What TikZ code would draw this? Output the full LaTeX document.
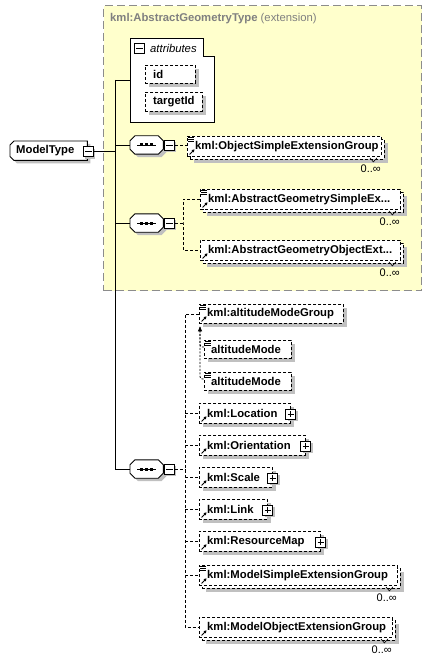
\documentclass[tikz,border=0pt]{standalone}
\usepackage{fontspec}
\setmainfont{Liberation Sans}
\usetikzlibrary{shadows,arrows.meta,calc}
\definecolor{ybg}{RGB}{255,255,204}
\definecolor{ybd}{RGB}{140,140,140}
\definecolor{shd}{RGB}{192,192,192}
\definecolor{ttl}{RGB}{128,128,128}
\tikzset{
  dsh/.style={dash pattern=on 3pt off 2pt},
  dotl/.style={dash pattern=on 2pt off 1.5pt},
  shadowed/.style={general shadow={fill=shd, shadow xshift=4pt, shadow yshift=-4pt}},
  elembox/.style={draw=black, line width=0.9pt, dsh, fill=white, inner sep=0pt, anchor=north west},
  lbl/.style={font=\fontsize{11.3}{13}\selectfont\bfseries, inner sep=0pt, anchor=west, text=black},
  occ/.style={font=\fontsize{11}{13}\selectfont, inner sep=0pt, anchor=east},
  iconbox/.style={draw=black, solid, fill=white, line width=0.9pt, minimum size=10pt, inner sep=0pt,
    general shadow={fill=shd, shadow xshift=2pt, shadow yshift=-2pt}},
  wire/.style={line width=0.9pt},
}
\newcommand\minusicon[2]{%
  \node[iconbox] (#1) at (#2) {};
  \draw[line width=0.9pt] ($(#1.center)+(-3.2,0)$) -- ($(#1.center)+(3.2,0)$);}
\newcommand\plusicon[2]{%
  \node[iconbox] (#1) at (#2) {};
  \draw[line width=0.9pt] ($(#1.center)+(-3.2,0)$) -- ($(#1.center)+(3.2,0)$);
  \draw[line width=0.9pt] ($(#1.center)+(0,-3.2)$) -- ($(#1.center)+(0,3.2)$);}
\newcommand\seqnode[3]{%
  \node[inner sep=0pt, minimum width=33pt, minimum height=18pt, anchor=west] (#1) at (#2,#3) {};
  \filldraw[fill=white, line width=0.9pt, general shadow={fill=shd, shadow xshift=3pt, shadow yshift=-3pt}]
    ($(#1.north west)+(5,0)$) -- ($(#1.north east)+(-5,0)$) -- ($(#1.north east)+(0,5)$) --
    ($(#1.south east)+(0,-5)$) -- ($(#1.south east)+(-5,0)$) -- ($(#1.south west)+(5,0)$) --
    ($(#1.south west)+(0,-5)$) -- ($(#1.north west)+(0,5)$) -- cycle;
  \draw[line width=0.9pt] ($(#1.west)+(7,0)$) -- ($(#1.east)+(-7,0)$);
  \foreach \dx in {-5,0,5} {\fill ($(#1.center)+(\dx-1.5,-1.5)$) rectangle +(3,3);}
  \minusicon{#1m}{$(#1.east)+(6,0)$}}
\newcommand\refarrow[1]{%
  \draw[line width=0.9pt, solid, -{Triangle[length=2.6pt,width=3pt]}] ($(#1.south west)+(2.5,-2.5)$) -- ($(#1.south west)+(7.5,-7.5)$);}
\newcommand\simplelines[1]{%
  \foreach \dy in {1.2,3.2,5.2} {\draw[line width=0.7pt, solid] ($(#1.north west)+(1,\dy)$) -- +(6,0);}}
\newcommand\notch[1]{%
  \draw[line width=0.6pt, solid] ($(#1.south east)+(-12,1)$) -- ($(#1.south east)+(-8.5,5)$) -- ($(#1.south east)+(-5,1)$);}
\begin{document}
\begin{tikzpicture}[x=1pt,y=-1pt]
\useasboundingbox[fill=white] (0,0) rectangle (432,660);

% extension area
\node[draw=ybd, fill=ybg, line width=1.1pt, dash pattern=on 8pt off 4pt, inner sep=0pt,
      minimum width=318pt, minimum height=285pt, anchor=north west] (ext) at (103,5) {};
\node[inner sep=0pt, anchor=west, text=ttl, font=\fontsize{11.3}{13}\selectfont] (extt) at (110,19)
  {\textbf{kml:AbstractGeometryType} (extension)};

% attributes panel
\node[inner sep=0pt, minimum width=84pt, minimum height=84pt, anchor=north west] (attr) at (130,38) {};
\filldraw[fill=white, line width=0.9pt] (attr.north west) -- ($(attr.north east)+(-11,0)$) --
  ($(attr.north east)+(-11,18)$) -- ($(attr.north east)+(0,18)$) -- (attr.south east) -- (attr.south west) -- cycle;
\node[draw=black, fill=white, line width=0.9pt, minimum size=10pt, inner sep=0pt] (attrm) at (139.5,48.5) {};
\draw[line width=0.9pt] ($(attrm.center)+(-3.2,0)$) -- ($(attrm.center)+(3.2,0)$);
\node[inner sep=0pt, anchor=west, font=\fontsize{11.3}{13}\selectfont\itshape] (attrt) at (150,48.5) {attributes};
\node[elembox, shadowed, minimum width=50pt, minimum height=18pt] (aid) at (145,65) {};
\node[lbl] (aidt) at ($(aid.west)+(8,0)$) {id};
\node[elembox, shadowed, minimum width=57pt, minimum height=19pt] (atid) at (145,92) {};
\node[lbl] (atidt) at ($(atid.west)+(8,0)$) {targetId};

% root
\node[inner sep=0pt, minimum width=77pt, minimum height=19pt, anchor=north west] (mt) at (10,141) {};
\filldraw[fill=white, line width=0.9pt, general shadow={fill=shd, shadow xshift=3pt, shadow yshift=-3pt}]
  ($(mt.north west)+(4,0)$) -- (mt.north east) -- (mt.south east) -- ($(mt.south west)+(4,0)$) --
  ($(mt.south west)+(0,-4)$) -- ($(mt.north west)+(0,4)$) -- cycle;
\node[lbl] (mtt) at ($(mt.west)+(6,0)$) {ModelType};
\minusicon{mtm}{$(mt.east)+(1,1)$}

% bus
\coordinate (bustop) at (115,80);
\coordinate (busbot) at (115,469);
\draw[wire] (mtm.east) -- (mtm.east -| bustop);
\draw[wire] (bustop) -- (busbot);
\draw[wire] (bustop) -- (bustop -| attr.west);

% sequences
\seqnode{s1}{130}{145}
\seqnode{s2}{130}{223}
\seqnode{s3}{130}{469}
\draw[wire] (s1.west -| bustop) -- (s1.west);
\draw[wire] (s2.west -| bustop) -- (s2.west);
\draw[wire] (busbot) -- (s3.west);

% sequence 1 content
\node[elembox, shadowed, minimum width=194pt, minimum height=20pt] (osgb) at (190,139) {};
\node[elembox, minimum width=194pt, minimum height=20pt] (osg) at (187,136) {};
\simplelines{osg}\refarrow{osg}\notch{osg}
\node[lbl] (osgt) at ($(osg.west)+(8,0)$) {kml:ObjectSimpleExtensionGroup};
\node[occ] (osgo) at ($(osg.south east)+(-1,12)$) {0..∞};
\draw[wire, dsh] (s1m.east) -- (s1m.east -| osg.west);

% sequence 2 content
\node[elembox, shadowed, minimum width=200pt, minimum height=20pt] (agsb) at (203,192) {};
\node[elembox, minimum width=200pt, minimum height=20pt] (ags) at (200,189) {};
\simplelines{ags}\refarrow{ags}\notch{ags}
\node[lbl] (agst) at ($(ags.west)+(8,0)$) {kml:AbstractGeometrySimpleEx...};
\node[occ] (agso) at ($(ags.south east)+(-1,12)$) {0..∞};
\node[elembox, shadowed, minimum width=200pt, minimum height=20pt] (agob) at (203,243) {};
\node[elembox, minimum width=200pt, minimum height=20pt] (ago) at (200,240) {};
\refarrow{ago}\notch{ago}
\node[lbl] (agot) at ($(ago.west)+(8,0)$) {kml:AbstractGeometryObjectExt...};
\node[occ] (agoo) at ($(ago.south east)+(-1,12)$) {0..∞};
\coordinate (b2) at (183,223);
\draw[wire, dsh] (s2m.east) -- (b2);
\draw[wire, dsh] (ags.west) -| (b2) |- (ago.west);

% sequence 3 content
\node[elembox, shadowed, minimum width=144pt, minimum height=19pt] (amg) at (199,304) {};
\simplelines{amg}\refarrow{amg}
\node[lbl] (amgt) at ($(amg.west)+(8,0)$) {kml:altitudeModeGroup};
\node[elembox, shadowed, minimum width=87pt, minimum height=18pt] (am1) at (204,340) {};
\simplelines{am1}
\node[lbl] (am1t) at ($(am1.west)+(7,0.5)$) {altitudeMode};
\node[elembox, shadowed, minimum width=87pt, minimum height=18pt] (am2) at (204,372) {};
\simplelines{am2}
\node[lbl] (am2t) at ($(am2.west)+(7,0.5)$) {altitudeMode};
\coordinate (sg) at ($(amg.south west)+(1,3)$);
\draw[line width=0.9pt, dotl, rounded corners=2.5pt] (sg) |- ($(am1.north west)+(0,7)$);
\draw[line width=0.9pt, dotl, rounded corners=2.5pt] (sg) |- ($(am2.north west)+(0,7)$);
\fill (sg) -- ++(-2.2,4.5) -- ++(4.4,0) -- cycle;

\node[elembox, shadowed, minimum width=91pt, minimum height=20pt] (loc) at (199,403) {};
\refarrow{loc}
\node[lbl] (loct) at ($(loc.west)+(8,0)$) {kml:Location};
\plusicon{locp}{$(loc.east)+(0,0.5)$}
\node[elembox, shadowed, minimum width=106pt, minimum height=20pt] (ori) at (199,435) {};
\refarrow{ori}
\node[lbl] (orit) at ($(ori.west)+(8,0)$) {kml:Orientation};
\plusicon{orip}{$(ori.east)+(0,0.5)$}
\node[elembox, shadowed, minimum width=73pt, minimum height=20pt] (scl) at (199,467) {};
\refarrow{scl}
\node[lbl] (sclt) at ($(scl.west)+(8,0)$) {kml:Scale};
\plusicon{sclp}{$(scl.east)+(0,0.5)$}
\node[elembox, shadowed, minimum width=68pt, minimum height=20pt] (lnk) at (199,499) {};
\refarrow{lnk}
\node[lbl] (lnkt) at ($(lnk.west)+(8,0)$) {kml:Link};
\plusicon{lnkp}{$(lnk.east)+(0,0.5)$}
\node[elembox, shadowed, minimum width=121pt, minimum height=20pt] (rmp) at (199,531) {};
\refarrow{rmp}
\node[lbl] (rmpt) at ($(rmp.west)+(8,0)$) {kml:ResourceMap};
\plusicon{rmpp}{$(rmp.east)+(0,0.5)$}

\node[elembox, shadowed, minimum width=198pt, minimum height=20pt] (msgb) at (202,568) {};
\node[elembox, minimum width=198pt, minimum height=20pt] (msg) at (199,565) {};
\simplelines{msg}\refarrow{msg}\notch{msg}
\node[lbl] (msgt) at ($(msg.west)+(8,0)$) {kml:ModelSimpleExtensionGroup};
\node[occ] (msgo) at ($(msg.south east)+(-1,12)$) {0..∞};
\node[elembox, shadowed, minimum width=193pt, minimum height=20pt] (mogb) at (202,620) {};
\node[elembox, minimum width=193pt, minimum height=20pt] (mog) at (199,617) {};
\refarrow{mog}\notch{mog}
\node[lbl] (mogt) at ($(mog.west)+(8,0)$) {kml:ModelObjectExtensionGroup};
\node[occ] (mogo) at ($(mog.south east)+(-1,12)$) {0..∞};

\coordinate (b3) at (185,469);
\draw[wire, dsh] (s3m.east) -- (b3);
\draw[wire, dsh] (amg.west) -| (b3) |- (mog.west);
\foreach \n in {loc,ori,scl,lnk,rmp,msg} {\draw[wire, dsh] (b3 |- \n.west) -- (\n.west);}
\end{tikzpicture}
\end{document}
